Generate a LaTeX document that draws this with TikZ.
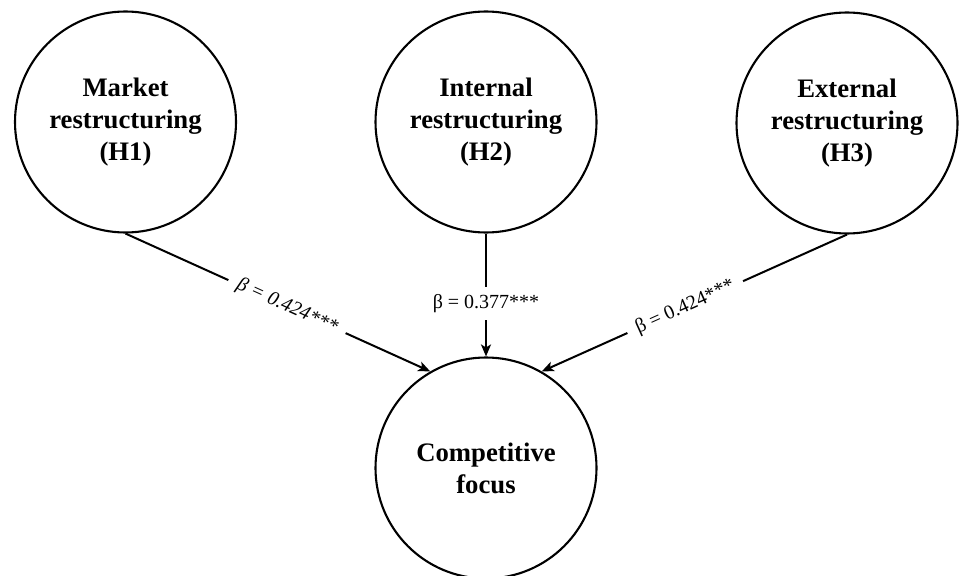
\documentclass[tikz,border=0pt]{standalone}
\usepackage{fontspec}
\setmainfont{Liberation Serif}
\usetikzlibrary{arrows.meta}
\begin{document}
\begin{tikzpicture}[x=1pt,y=-1pt,
  construct/.style={circle,draw,line width=2.1pt,minimum size=221pt,inner sep=0pt,
    align=center,font=\fontsize{26.7}{32}\selectfont\bfseries},
  path/.style={line width=2pt,-{Stealth[length=12pt,width=10pt,inset=3pt]}},
  coef/.style={fill=white,inner xsep=10pt,inner ysep=7pt,font=\fontsize{20}{24}\selectfont}
]
\useasboundingbox[fill=white] (0,0) rectangle (960,575);
\node[construct] (h1) at (125.5,122) {Market\\restructuring\\(H1)};
\node[construct] (h2) at (486,122) {Internal\\restructuring\\(H2)};
\node[construct] (h3) at (847,123) {External\\restructuring\\(H3)};
\node[construct] (cf) at (486,468) {Competitive\\focus};
\draw[path] (h1.south) -- node[coef,sloped,pos=0.53]{\itshape β = 0.424***} (cf.120);
\draw[path] (h2.south) -- node[coef,pos=0.57]{β = 0.377***} (cf.north);
\draw[path] (h3.south) -- node[coef,sloped,pos=0.53]{β = 0.424***} (cf.60);
\end{tikzpicture}
\end{document}
